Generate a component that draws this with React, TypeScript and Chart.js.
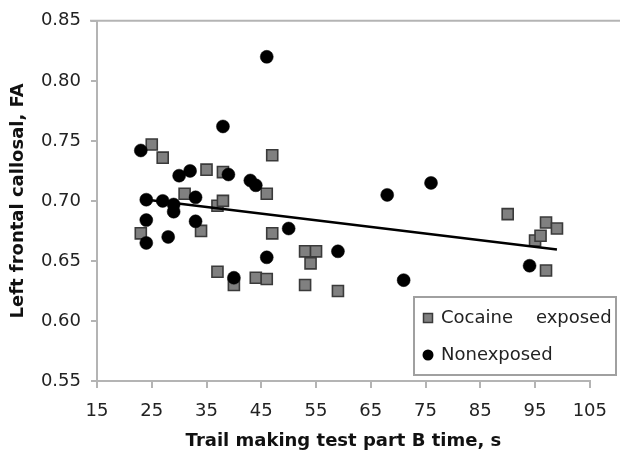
import React, { useEffect, useRef } from "react";
import { Chart, registerables } from "chart.js";

Chart.register(...registerables);

// ---- Data ----
const cocaineX = [23, 25, 27, 31, 34, 35, 37, 38, 38, 37, 40, 44, 46, 46, 47, 47, 53, 55, 54, 53, 59, 90, 95, 96, 97, 99, 97];
const cocaineY = [0.673, 0.747, 0.736, 0.706, 0.675, 0.726, 0.696, 0.700, 0.724, 0.641, 0.630, 0.636, 0.635, 0.706, 0.738, 0.673, 0.658, 0.658, 0.648, 0.630, 0.625, 0.689, 0.667, 0.671, 0.682, 0.677, 0.642];

const nonX = [23, 24, 24, 24, 27, 28, 29, 29, 30, 32, 33, 33, 38, 39, 40, 43, 44, 46, 46, 50, 59, 68, 71, 76, 94];
const nonY = [0.742, 0.701, 0.684, 0.665, 0.700, 0.670, 0.697, 0.691, 0.721, 0.725, 0.703, 0.683, 0.762, 0.722, 0.636, 0.717, 0.713, 0.820, 0.653, 0.677, 0.658, 0.705, 0.634, 0.715, 0.646];

const trendX = [23, 99];
const trendY = [0.7016, 0.6595];

const xTicks = [15, 25, 35, 45, 55, 65, 75, 85, 95, 105];
const yTicks = [0.55, 0.6, 0.65, 0.7, 0.75, 0.8, 0.85];

const seriesLabels = ["Cocaine    exposed", "Nonexposed"];
const xTitle = "Trail making test part B time, s";
const yTitle = "Left frontal callosal, FA";

const FONT = "'DejaVu Sans', 'Liberation Sans', Arial, sans-serif";
const AXIS_GRAY = "#b4b4b4";
const SQUARE_FILL = "#808080";
const SQUARE_EDGE = "#3a3a3a";

const framePlugin = {
  id: "frameTop",
  beforeDatasetsDraw(chart: any) {
    const { ctx, chartArea, width } = chart;
    ctx.save();
    ctx.strokeStyle = AXIS_GRAY;
    ctx.lineWidth = 2;
    ctx.beginPath();
    ctx.moveTo(chartArea.left - 7, chartArea.top);
    ctx.lineTo(width, chartArea.top);
    ctx.stroke();
    ctx.restore();
  },
};

const legendPlugin = {
  id: "insideLegend",
  afterDatasetsDraw(chart: any) {
    const { ctx } = chart;
    const left = 414, top = 297, right = 616, bottom = 375;
    ctx.save();
    ctx.fillStyle = "#fff";
    ctx.fillRect(left, top, right - left, bottom - top);
    ctx.strokeStyle = "#a0a0a0";
    ctx.lineWidth = 2;
    ctx.strokeRect(left, top, right - left, bottom - top);

    const rows = [318, 355];
    const mx = 428;
    // square marker
    ctx.fillStyle = SQUARE_FILL;
    ctx.strokeStyle = SQUARE_EDGE;
    ctx.lineWidth = 1.5;
    ctx.fillRect(mx - 4.5, rows[0] - 4.5, 9, 9);
    ctx.strokeRect(mx - 4.5, rows[0] - 4.5, 9, 9);
    // circle marker
    ctx.fillStyle = "#000";
    ctx.beginPath();
    ctx.arc(mx, rows[1], 5.5, 0, Math.PI * 2);
    ctx.fill();

    ctx.fillStyle = "#222";
    ctx.font = `18px ${FONT}`;
    ctx.textBaseline = "middle";
    ctx.textAlign = "left";
    ctx.fillText(seriesLabels[0], 441, rows[0]);
    ctx.fillText(seriesLabels[1], 441, rows[1]);
    ctx.restore();
  },
};

export default function App() {
  const canvasRef = useRef<HTMLCanvasElement | null>(null);

  useEffect(() => {
    if (!canvasRef.current) return;
    const chart = new Chart(canvasRef.current, {
      type: "scatter",
      data: {
        datasets: [
          {
            label: seriesLabels[0],
            data: cocaineX.map((x, i) => ({ x, y: cocaineY[i] })),
            pointStyle: "rect",
            pointRadius: 7.8,
            pointBackgroundColor: SQUARE_FILL,
            pointBorderColor: SQUARE_EDGE,
            pointBorderWidth: 1.6,
            order: 3,
          },
          {
            label: seriesLabels[1],
            data: nonX.map((x, i) => ({ x, y: nonY[i] })),
            pointStyle: "circle",
            pointRadius: 6.5,
            pointBackgroundColor: "#000",
            pointBorderColor: "#000",
            pointBorderWidth: 0.5,
            order: 2,
          },
          {
            type: "line",
            label: "trend",
            data: trendX.map((x, i) => ({ x, y: trendY[i] })),
            borderColor: "#000",
            borderWidth: 2.5,
            pointRadius: 0,
            showLine: true,
            fill: false,
            order: 1,
          } as any,
        ],
      },
      options: {
        animation: false,
        responsive: false,
        maintainAspectRatio: false,
        layout: { padding: { top: 17, right: 25, left: 0, bottom: 0 } },
        plugins: {
          legend: { display: false },
          tooltip: { enabled: false },
        },
        scales: {
          x: {
            type: "linear",
            min: 15,
            max: 105,
            afterBuildTicks: (s: any) => {
              s.ticks = xTicks.map((v) => ({ value: v }));
            },
            afterFit: (s: any) => {
              s.height = 79;
            },
            ticks: {
              font: { family: FONT, size: 18 },
              color: "#222",
              padding: 13,
              maxRotation: 0,
              autoSkip: false,
            },
            grid: { drawOnChartArea: false, color: AXIS_GRAY, lineWidth: 2, tickLength: 7 },
            border: { color: AXIS_GRAY, width: 2 },
            title: {
              display: true,
              text: xTitle,
              font: { family: FONT, size: 18, weight: "bold" },
              color: "#111",
              padding: { top: 0, bottom: 8 },
            },
          },
          y: {
            type: "linear",
            min: 0.55,
            max: 0.85,
            afterBuildTicks: (s: any) => {
              s.ticks = yTicks.map((v) => ({ value: v }));
            },
            afterFit: (s: any) => {
              s.width = 97;
            },
            ticks: {
              font: { family: FONT, size: 18 },
              color: "#222",
              padding: 10,
              callback: (v: any) => Number(v).toFixed(2),
              autoSkip: false,
            },
            grid: { drawOnChartArea: false, color: AXIS_GRAY, lineWidth: 2, tickLength: 6 },
            border: { color: AXIS_GRAY, width: 2 },
            title: {
              display: true,
              text: yTitle,
              font: { family: FONT, size: 18, weight: "bold" },
              color: "#111",
              padding: { top: 8, bottom: 0 },
            },
          },
        },
      },
      plugins: [framePlugin, legendPlugin],
    });
    return () => chart.destroy();
  }, []);

  return (
    <div style={{ position: "absolute", left: 0, top: 0, width: 620, height: 460, background: "#fff" }}>
      <canvas ref={canvasRef} width={620} height={460} style={{ display: "block" }} />
    </div>
  );
}
